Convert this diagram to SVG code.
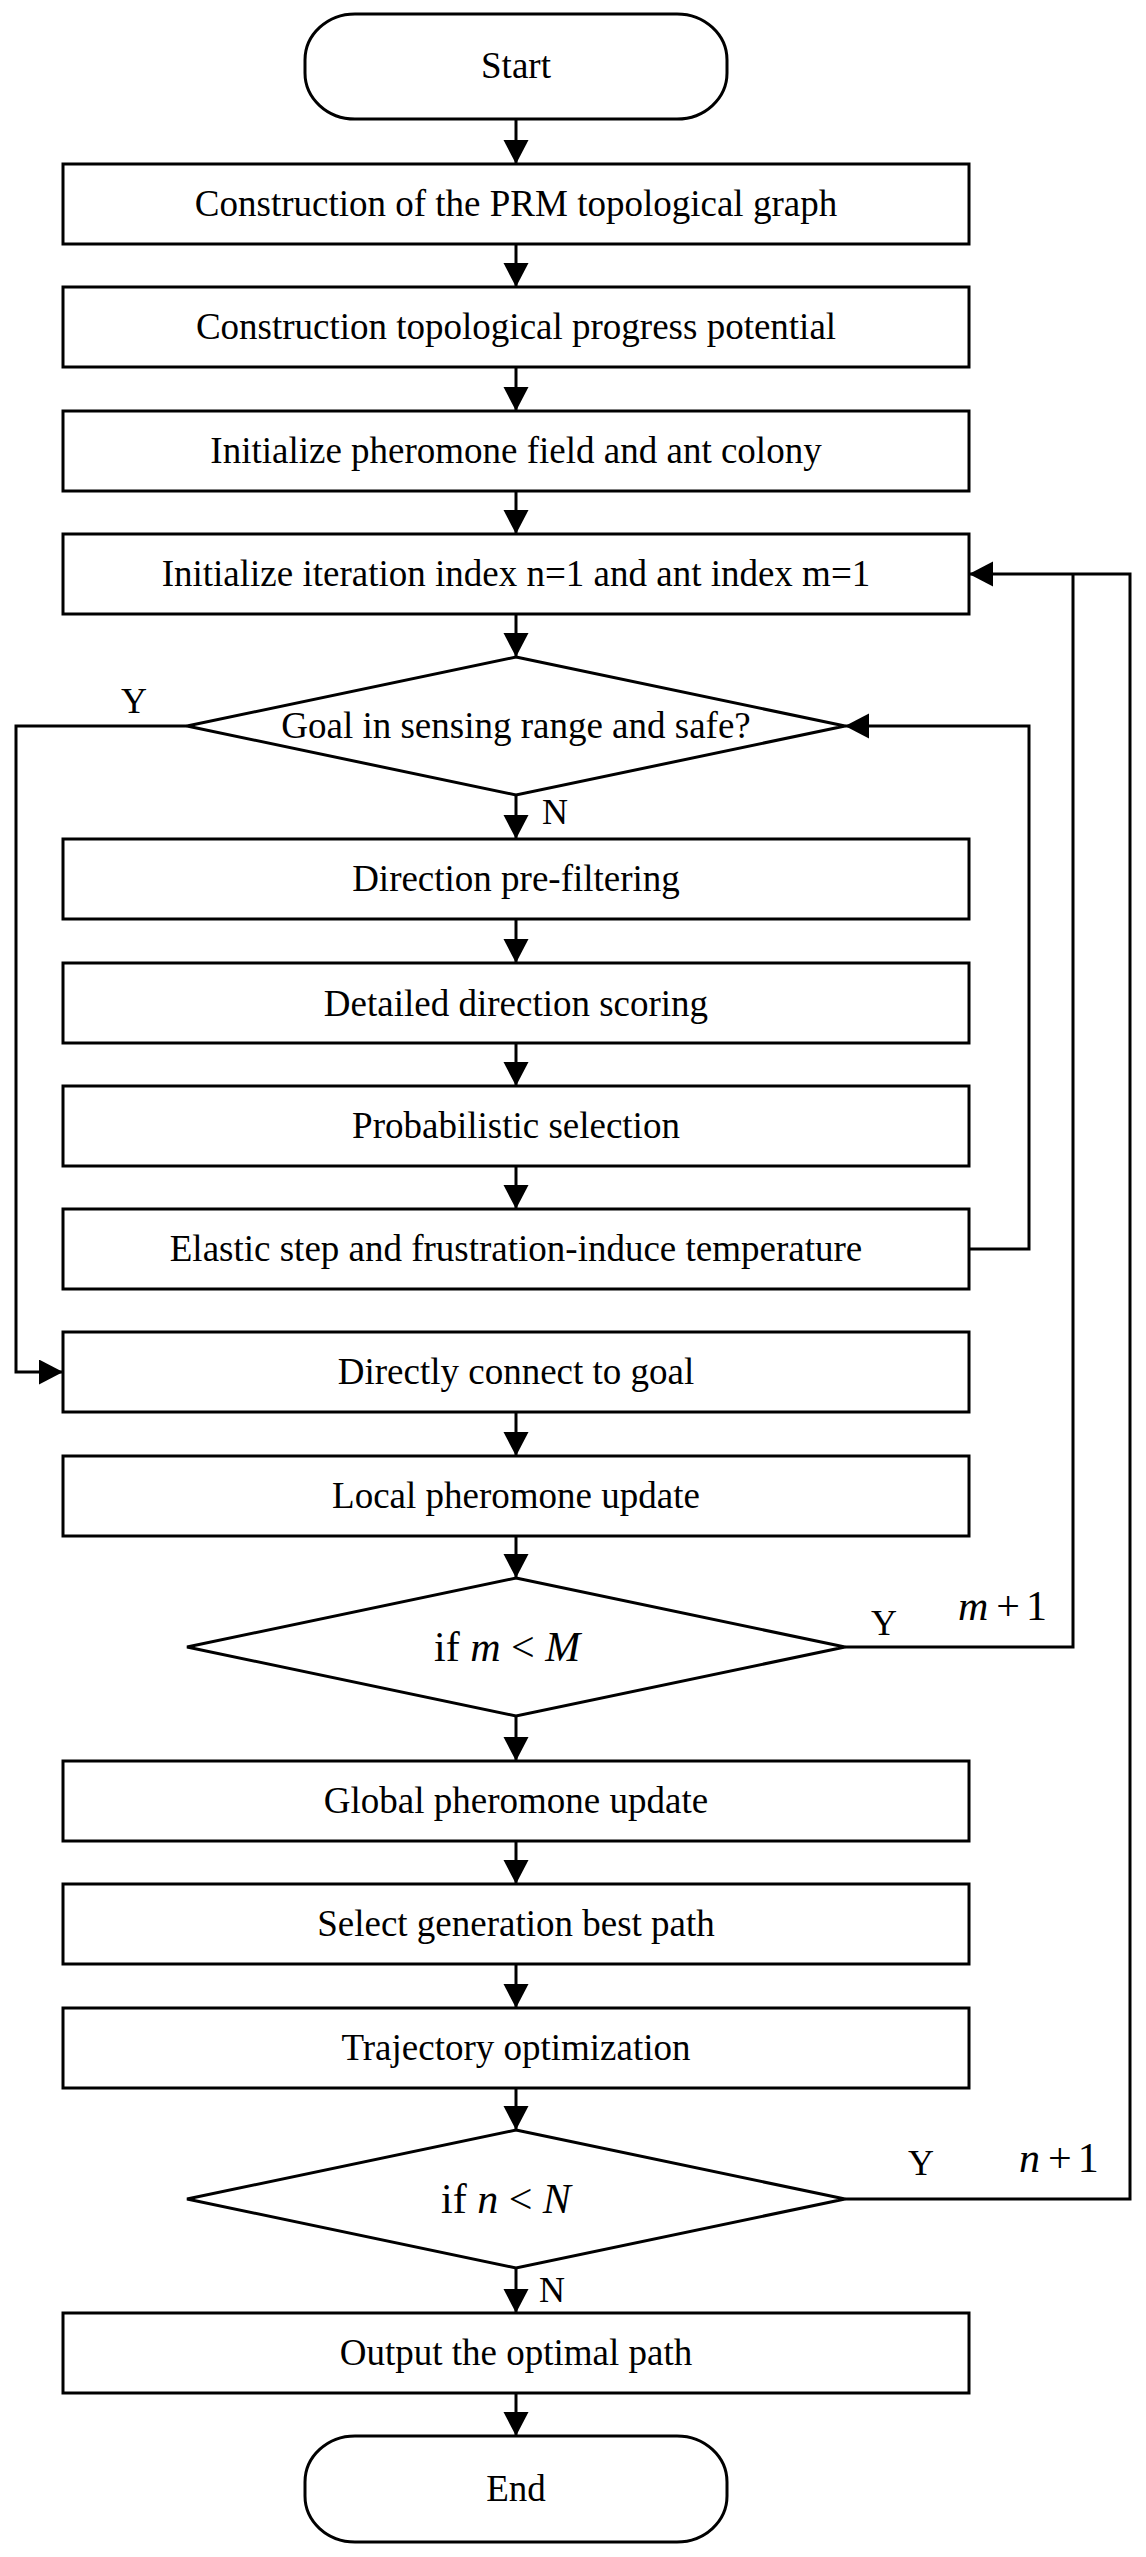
<svg xmlns="http://www.w3.org/2000/svg" width="1146" height="2557" viewBox="0 0 1146 2557">
<style>
.b{fill:#fff;stroke:#000;stroke-width:3}
.t{font-family:"Liberation Serif","Times New Roman",serif;font-size:37px;fill:#000;text-anchor:middle}
.l{font-family:"Liberation Serif","Times New Roman",serif;font-size:36px;fill:#000}
.m{font-family:"Liberation Serif","Times New Roman",serif;font-size:42px;fill:#000}
.c{fill:none;stroke:#000;stroke-width:3}
</style>
<defs>
<marker id="a" markerUnits="userSpaceOnUse" markerWidth="24" markerHeight="26" refX="24" refY="12.5" orient="auto">
<path d="M0,0 L24,12.5 L0,25 z" fill="#000"/>
</marker>
</defs>
<rect width="1146" height="2557" fill="#fff"/>
<g id="connectors">
<line class="c" x1="516" y1="119" x2="516" y2="164" marker-end="url(#a)"/>
<line class="c" x1="516" y1="244" x2="516" y2="287" marker-end="url(#a)"/>
<line class="c" x1="516" y1="367" x2="516" y2="411" marker-end="url(#a)"/>
<line class="c" x1="516" y1="491" x2="516" y2="534" marker-end="url(#a)"/>
<line class="c" x1="516" y1="614" x2="516" y2="657" marker-end="url(#a)"/>
<line class="c" x1="516" y1="795" x2="516" y2="839" marker-end="url(#a)"/>
<line class="c" x1="516" y1="919" x2="516" y2="963" marker-end="url(#a)"/>
<line class="c" x1="516" y1="1043" x2="516" y2="1086" marker-end="url(#a)"/>
<line class="c" x1="516" y1="1166" x2="516" y2="1209" marker-end="url(#a)"/>
<line class="c" x1="516" y1="1412" x2="516" y2="1456" marker-end="url(#a)"/>
<line class="c" x1="516" y1="1536" x2="516" y2="1578" marker-end="url(#a)"/>
<line class="c" x1="516" y1="1716" x2="516" y2="1761" marker-end="url(#a)"/>
<line class="c" x1="516" y1="1841" x2="516" y2="1884" marker-end="url(#a)"/>
<line class="c" x1="516" y1="1964" x2="516" y2="2008" marker-end="url(#a)"/>
<line class="c" x1="516" y1="2088" x2="516" y2="2130" marker-end="url(#a)"/>
<line class="c" x1="516" y1="2268" x2="516" y2="2313" marker-end="url(#a)"/>
<line class="c" x1="516" y1="2393" x2="516" y2="2436" marker-end="url(#a)"/>
<polyline class="c" points="969,1249 1029,1249 1029,726 845,726" marker-end="url(#a)"/>
<polyline class="c" points="187,726 16,726 16,1372 63,1372" marker-end="url(#a)"/>
<polyline class="c" points="845,1647 1073,1647 1073,574"/>
<polyline class="c" points="845,2199 1130,2199 1130,574 969,574" marker-end="url(#a)"/>
<text class="l" x="121" y="713">Y</text>
<text class="l" x="542" y="824" font-size="34">N</text>
<text class="l" x="871" y="1635" font-size="34">Y</text>
<text class="m" x="958" y="1620"><tspan font-style="italic">m</tspan><tspan dx="8">+</tspan><tspan dx="6">1</tspan></text>
<text class="l" x="908" y="2175" font-size="34">Y</text>
<text class="m" x="1019" y="2172"><tspan font-style="italic">n</tspan><tspan dx="8">+</tspan><tspan dx="6">1</tspan></text>
<text class="l" x="539" y="2302" font-size="34">N</text>
</g>
<g id="start"><rect class="b" x="305" y="14" width="422" height="105" rx="50" ry="46"/><text class="t" x="516" y="78">Start</text></g>
<g id="prm"><rect class="b" x="63" y="164" width="906" height="80"/><text class="t" x="516" y="216">Construction of the PRM topological graph</text></g>
<g id="potential"><rect class="b" x="63" y="287" width="906" height="80"/><text class="t" x="516" y="339">Construction topological progress potential</text></g>
<g id="initpher"><rect class="b" x="63" y="411" width="906" height="80"/><text class="t" x="516" y="463">Initialize pheromone field and ant colony</text></g>
<g id="inititer"><rect class="b" x="63" y="534" width="906" height="80"/><text class="t" x="516" y="586">Initialize iteration index n=1 and ant index m=1</text></g>
<g id="goal"><polygon class="b" points="516,657 845,726 516,795 187,726"/><text class="t" x="516" y="738">Goal in sensing range and safe?</text></g>
<g id="prefilter"><rect class="b" x="63" y="839" width="906" height="80"/><text class="t" x="516" y="891">Direction pre-filtering</text></g>
<g id="scoring"><rect class="b" x="63" y="963" width="906" height="80"/><text class="t" x="516" y="1016" font-size="39">Detailed direction scoring</text></g>
<g id="selection"><rect class="b" x="63" y="1086" width="906" height="80"/><text class="t" x="516" y="1138">Probabilistic selection</text></g>
<g id="elastic"><rect class="b" x="63" y="1209" width="906" height="80"/><text class="t" x="516" y="1261">Elastic step and frustration-induce temperature</text></g>
<g id="direct"><rect class="b" x="63" y="1332" width="906" height="80"/><text class="t" x="516" y="1384">Directly connect to goal</text></g>
<g id="local"><rect class="b" x="63" y="1456" width="906" height="80"/><text class="t" x="516" y="1508">Local pheromone update</text></g>
<g id="ifm"><polygon class="b" points="516,1578 845,1647 516,1716 187,1647"/><text class="m" x="434" y="1661">if <tspan font-style="italic">m</tspan> &lt; <tspan font-style="italic">M</tspan></text></g>
<g id="global"><rect class="b" x="63" y="1761" width="906" height="80"/><text class="t" x="516" y="1813">Global pheromone update</text></g>
<g id="best"><rect class="b" x="63" y="1884" width="906" height="80"/><text class="t" x="516" y="1936">Select generation best path</text></g>
<g id="traj"><rect class="b" x="63" y="2008" width="906" height="80"/><text class="t" x="516" y="2060">Trajectory optimization</text></g>
<g id="ifn"><polygon class="b" points="516,2130 845,2199 516,2268 187,2199"/><text class="m" x="441" y="2213">if <tspan font-style="italic">n</tspan> &lt; <tspan font-style="italic">N</tspan></text></g>
<g id="output"><rect class="b" x="63" y="2313" width="906" height="80"/><text class="t" x="516" y="2365">Output the optimal path</text></g>
<g id="end"><rect class="b" x="305" y="2436" width="422" height="106" rx="50" ry="46"/><text class="t" x="516" y="2501">End</text></g>
</svg>
